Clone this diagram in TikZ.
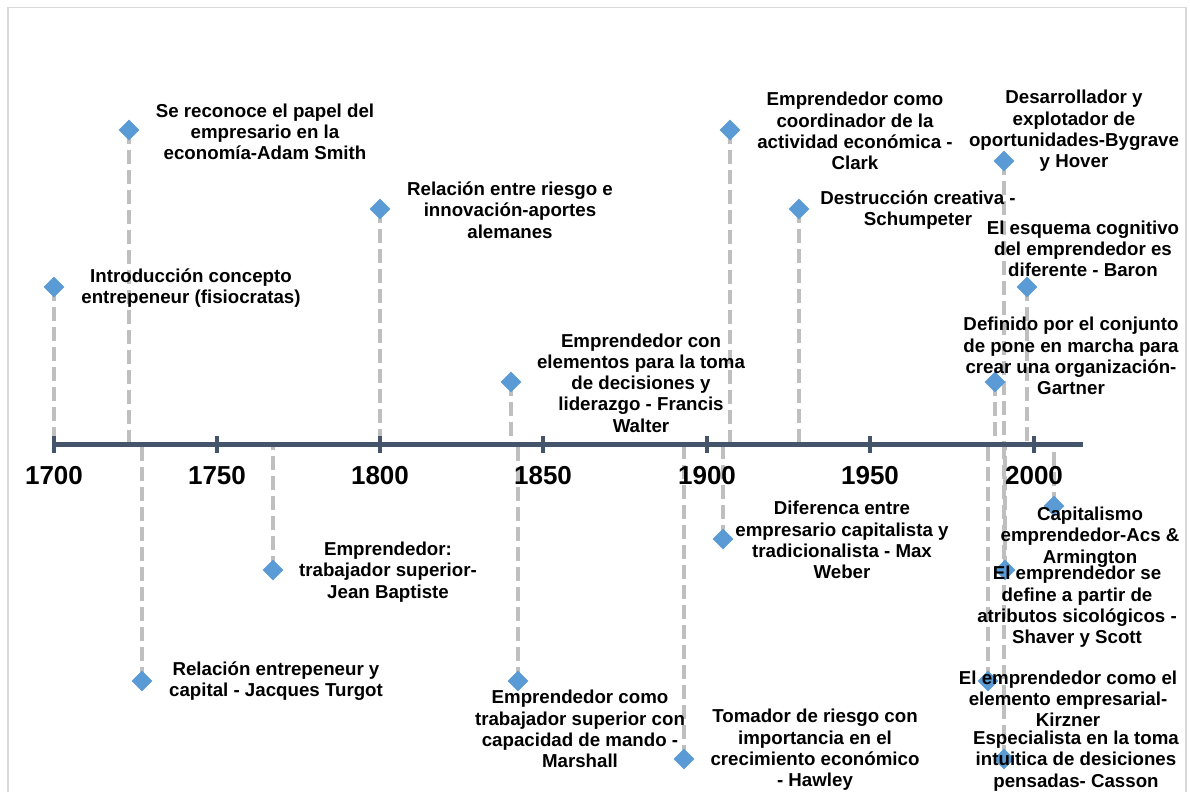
\documentclass[tikz,border=0pt]{standalone}
\usepackage{fontspec}
\setmainfont{Liberation Sans}
\usetikzlibrary{shapes.geometric}
\definecolor{axisblue}{HTML}{44546A}
\definecolor{evtblue}{HTML}{5B9BD5}
\definecolor{stemgray}{HTML}{BFBFBF}
\definecolor{framegray}{HTML}{D9D9D9}
\pgfdeclarelayer{bg}
\pgfsetlayers{bg,main}
\begin{document}
\begin{tikzpicture}[x=1pt,y=-1pt,
  evt/.style={diamond,fill=evtblue,inner sep=0pt,minimum width=21pt,minimum height=21pt},
  lbl/.style={align=center,inner sep=0pt,font=\fontsize{18.7}{21.3}\selectfont\bfseries},
  yr/.style={inner sep=0pt,font=\fontsize{26}{30}\selectfont\bfseries},
  stem/.style={draw=stemgray,line width=4.75pt,dash pattern=on 14pt off 6pt},
  axisline/.style={draw=axisblue,line width=5pt},
  tickmark/.style={draw=axisblue,line width=4.5pt},
  frameline/.style={draw=framegray,line width=1.5pt}]
\useasboundingbox (0,0) rectangle (1190,792);
\draw[frameline] (8,792) -- (8,7.5) -- (1186,7.5) -- (1186,792);

% axis
\coordinate (axL) at (52,444);
\coordinate (axR) at (1083,444);
\draw[axisline] (axL) -- (axR);
\foreach \x/\yy in {54/1700,217/1750,380/1800,543/1850,707/1900,870/1950,1034/2000}{
  \draw[tickmark] (\x,436) -- (\x,453);
  \node[yr] (y\yy) at (\x,476) {\yy};
}

% events
\node[evt] (e1) at (54,287) {};
\node[evt] (e2) at (129,130) {};
\node[evt] (e3) at (142,681) {};
\node[evt] (e4) at (273,570) {};
\node[evt] (e5) at (380,209) {};
\node[evt] (e6) at (511,382) {};
\node[evt] (e7) at (518,681) {};
\node[evt] (e8) at (684,759) {};
\node[evt] (e9) at (730,130) {};
\node[evt] (e10) at (723,539) {};
\node[evt] (e11) at (799,209) {};
\node[evt] (e12) at (1004,161) {};
\node[evt] (e13) at (1027,287) {};
\node[evt] (e14) at (995,382) {};
\node[evt] (e15) at (1054,506) {};
\node[evt] (e16) at (1005,570) {};
\node[evt] (e17) at (988,681) {};
\node[evt] (e18) at (1004,759) {};

\begin{pgfonlayer}{bg}
\foreach \i in {1,...,18}{
  \draw[stem] (e\i.center) -- (e\i.center |- axL);
}
\end{pgfonlayer}

\node[lbl] (t1) at (191,288) {Introducción concepto\\entrepeneur (fisiocratas)};
\node[lbl] (t2) at (265,132) {Se reconoce el papel del\\empresario en la\\economía-Adam Smith};
\node[lbl] (t3) at (276,681) {Relación entrepeneur y\\capital - Jacques Turgot};
\node[lbl] (t4) at (388,572) {Emprendedor:\\trabajador superior-\\Jean Baptiste};
\node[lbl] (t5) at (510,210) {Relación entre riesgo e\\innovación-aportes\\alemanes};
\node[lbl] (t6) at (641,383) {Emprendedor con\\elementos para la toma\\de decisiones y\\liderazgo - Francis\\Walter};
\node[lbl] (t7) at (580,729) {Emprendedor como\\trabajador superior con\\capacidad de mando -\\Marshall};
\node[lbl] (t8) at (815,750) {Tomador de riesgo con\\importancia en el\\crecimiento económico\\- Hawley};
\node[lbl] (t9) at (855,131) {Emprendedor como\\coordinador de la\\actividad económica -\\Clark};
\node[lbl] (t10) at (842,540) {Diferenca entre\\empresario capitalista y\\tradicionalista - Max\\Weber};
\node[lbl] (t11) at (918,210) {Destrucción creativa -\\Schumpeter};
\node[lbl] (t12) at (1074,131) {Desarrollador y\\explotador de\\oportunidades-Bygrave\\y Hover};
\node[lbl] (t13) at (1083,249) {El esquema cognitivo\\del emprendedor es\\diferente - Baron};
\node[lbl] (t14) at (1071,356) {Definido por el conjunto\\de pone en marcha para\\crear una organización-\\Gartner};
\node[lbl] (t15) at (1090,537) {Capitalismo\\emprendedor-Acs \&\\Armington};
\node[lbl] (t16) at (1077,607) {El emprendedor se\\define a partir de\\atributos sicológicos -\\Shaver y Scott};
\node[lbl] (t17) at (1068,699) {El emprendedor como el\\elemento empresarial-\\Kirzner};
\node[lbl] (t18) at (1076,761) {Especialista en la toma\\intuitica de desiciones\\pensadas- Casson};
\end{tikzpicture}
\end{document}
